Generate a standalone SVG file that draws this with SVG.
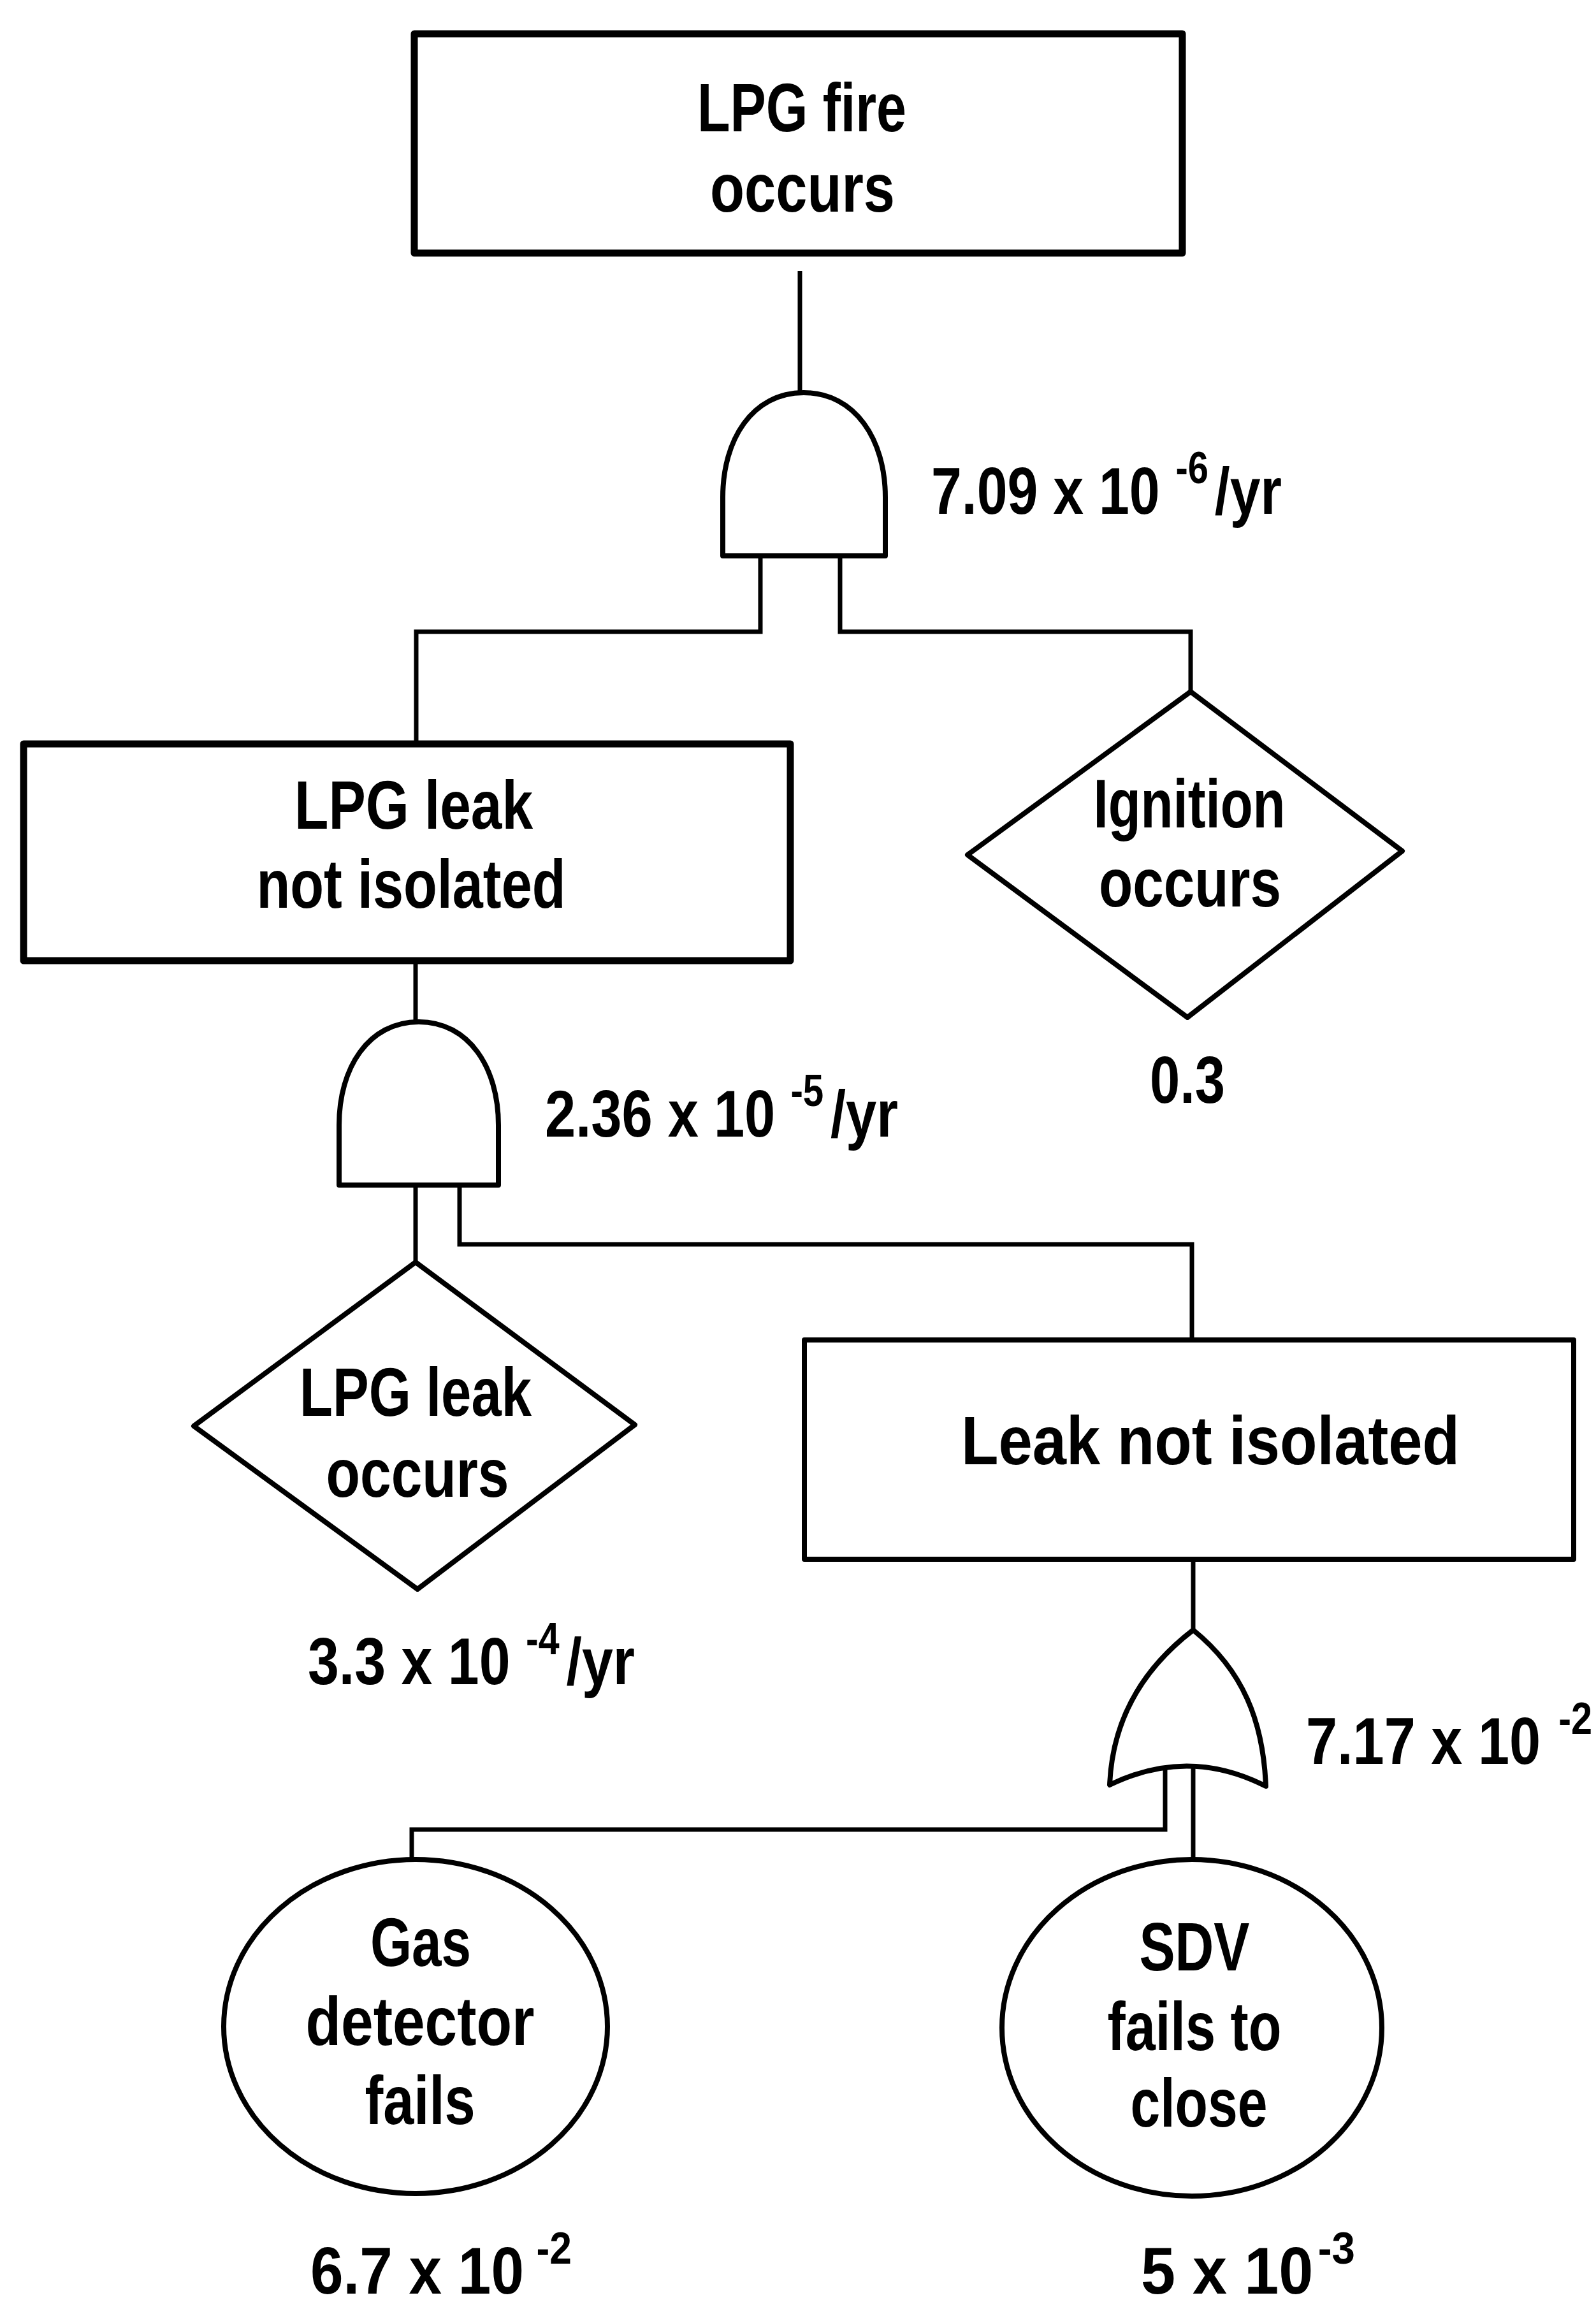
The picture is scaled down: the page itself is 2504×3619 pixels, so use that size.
<svg xmlns="http://www.w3.org/2000/svg" width="2504" height="3619" viewBox="0 0 2504 3619">
<style>
.shape{fill:#fff;stroke:#000;stroke-width:8;stroke-linejoin:round}
.thick{stroke-width:11}
.conn{fill:none;stroke:#000;stroke-width:7;stroke-linejoin:miter}
text{font-family:"Liberation Sans Narrow","Liberation Sans",Arial,sans-serif;font-weight:bold;fill:#000}
.t{font-size:108px;text-anchor:middle}
.l{font-size:104px}
.s{font-size:70px}
</style>
<rect width="2504" height="3619" fill="#fff"/>
<g id="connectors">
<path class="conn" d="M1255,425 L1255,616"/>
<path class="conn" d="M1193,872 L1193,991 L653,991 L653,1167"/>
<path class="conn" d="M1318,872 L1318,991 L1868,991 L1868,1085"/>
<path class="conn" d="M652,1507 L652,1603"/>
<path class="conn" d="M652,1859 L652,1980"/>
<path class="conn" d="M721,1859 L721,1952 L1870,1952 L1870,2102"/>
<path class="conn" d="M1872,2446 L1872,2557"/>
<path class="conn" d="M1828,2773 L1828,2870 L646,2870 L646,2917"/>
<path class="conn" d="M1872,2771 L1872,2917"/>
</g>
<g id="top-event">
<rect class="shape thick" x="650" y="53" width="1205" height="344"/>
<text class="t" x="1258" y="206" textLength="328" lengthAdjust="spacingAndGlyphs">LPG fire</text>
<text class="t" x="1259" y="332" textLength="290" lengthAdjust="spacingAndGlyphs">occurs</text>
</g>
<g id="and-gate-1">
<path class="shape" d="M1134,872 L1134,780 C1134,690 1180,616 1261,616 C1342,616 1389,690 1389,780 L1389,872 Z"/>
<text class="l" x="1461" y="806" textLength="550" lengthAdjust="spacingAndGlyphs">7.09 x 10<tspan class="s" dx="30" dy="-48">-6</tspan><tspan class="l" dx="12" dy="48">/yr</tspan></text>
</g>
<g id="lpg-leak-not-isolated">
<rect class="shape thick" x="37" y="1167" width="1203" height="340"/>
<text class="t" x="649" y="1300" textLength="374" lengthAdjust="spacingAndGlyphs">LPG leak</text>
<text class="t" x="645" y="1424" textLength="485" lengthAdjust="spacingAndGlyphs">not isolated</text>
</g>
<g id="ignition-occurs">
<polygon class="shape" points="1868,1085 2200,1335 1863,1596 1518,1341"/>
<text class="t" x="1866" y="1298" textLength="301" lengthAdjust="spacingAndGlyphs">Ignition</text>
<text class="t" x="1867" y="1422" textLength="286" lengthAdjust="spacingAndGlyphs">occurs</text>
<text class="l" x="1863" y="1730" text-anchor="middle" textLength="118" lengthAdjust="spacingAndGlyphs">0.3</text>
</g>
<g id="and-gate-2">
<path class="shape" d="M532,1859 L532,1765 C532,1675 578,1603 657,1603 C736,1603 782,1675 782,1765 L782,1859 Z"/>
<text class="l" x="855" y="1783" textLength="554" lengthAdjust="spacingAndGlyphs">2.36 x 10<tspan class="s" dx="29" dy="-48">-5</tspan><tspan class="l" dx="13" dy="48">/yr</tspan></text>
</g>
<g id="lpg-leak-occurs">
<polygon class="shape" points="652,1980 996,2235 655,2493 304,2237"/>
<text class="t" x="652" y="2221" textLength="364" lengthAdjust="spacingAndGlyphs">LPG leak</text>
<text class="t" x="655" y="2348" textLength="287" lengthAdjust="spacingAndGlyphs">occurs</text>
<text class="l" x="483" y="2642" textLength="513" lengthAdjust="spacingAndGlyphs">3.3 x 10<tspan class="s" dx="29" dy="-47">-4</tspan><tspan class="l" dx="13" dy="47">/yr</tspan></text>
</g>
<g id="leak-not-isolated">
<rect class="shape" x="1262" y="2102" width="1207" height="344"/>
<text class="t" x="1899" y="2297" textLength="782" lengthAdjust="spacingAndGlyphs">Leak not isolated</text>
</g>
<g id="or-gate">
<path class="shape" d="M1741,2800 C1745,2700 1790,2620 1872,2557 C1950,2620 1982,2700 1986,2802 Q1864,2740 1741,2800 Z"/>
<text class="l" x="2049" y="2767" textLength="449" lengthAdjust="spacingAndGlyphs">7.17 x 10<tspan class="s" dx="33" dy="-47">-2</tspan></text>
</g>
<g id="gas-detector-fails">
<ellipse class="shape" cx="652" cy="3179" rx="301" ry="262"/>
<text class="t" x="660" y="3084" textLength="158" lengthAdjust="spacingAndGlyphs">Gas</text>
<text class="t" x="659" y="3208" textLength="359" lengthAdjust="spacingAndGlyphs">detector</text>
<text class="t" x="659" y="3332" textLength="173" lengthAdjust="spacingAndGlyphs">fails</text>
<text class="l" x="487" y="3598" textLength="410" lengthAdjust="spacingAndGlyphs">6.7 x 10<tspan class="s" dx="22" dy="-47">-2</tspan></text>
</g>
<g id="sdv-fails-to-close">
<ellipse class="shape" cx="1870" cy="3181" rx="298" ry="264"/>
<text class="t" x="1874" y="3091" textLength="173" lengthAdjust="spacingAndGlyphs">SDV</text>
<text class="t" x="1874" y="3216" textLength="273" lengthAdjust="spacingAndGlyphs">fails to</text>
<text class="t" x="1881" y="3336" textLength="215" lengthAdjust="spacingAndGlyphs">close</text>
<text class="l" x="1790" y="3598" textLength="336" lengthAdjust="spacingAndGlyphs">5 x 10<tspan class="s" dx="8" dy="-47">-3</tspan></text>
</g>
</svg>
